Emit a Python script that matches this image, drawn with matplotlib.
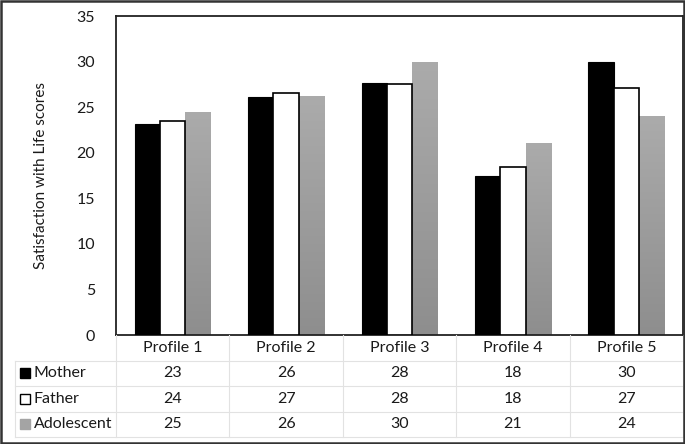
import matplotlib
matplotlib.use('Agg')
import matplotlib.pyplot as plt
from matplotlib.patches import Rectangle
import numpy as np

plt.rcParams['font.family'] = ['Lato', 'DejaVu Sans']

# data (bar heights, table values as printed)
profiles = ['Profile 1', 'Profile 2', 'Profile 3', 'Profile 4', 'Profile 5']
series = ['Mother', 'Father', 'Adolescent']
mother = [23.1, 26.1, 27.7, 17.5, 30.0]
father = [23.5, 26.5, 27.5, 18.4, 27.1]
adolescent = [24.5, 26.2, 30.0, 21.1, 24.0]
mother_tbl = [23, 26, 28, 18, 30]
father_tbl = [24, 27, 28, 18, 27]
adolescent_tbl = [25, 26, 30, 21, 24]

W, H = 685, 444
fig = plt.figure(figsize=(W / 100, H / 100), dpi=100)

# plot area in pixels
left, right, top, bottom = 116, 683, 16, 335
tbl_left, tbl_bottom = 15, 437

ax = fig.add_axes([left / W, (H - bottom) / H, (right - left) / W, (bottom - top) / H])
x = np.arange(len(profiles))
bw = 0.223

ax.bar(x - bw, mother, bw, color='black', edgecolor='black', linewidth=0.8, zorder=3)
ax.bar(x, father, bw, color='white', edgecolor='black', linewidth=1.2, zorder=3)
adol_bars = ax.bar(x + bw, adolescent, bw, color='none', edgecolor='none', zorder=3)

# vertical grey gradient for the adolescent bars
grad = np.linspace(0, 1, 256).reshape(-1, 1)
cmap = matplotlib.colors.LinearSegmentedColormap.from_list('g', ['#8e8e8e', '#ababab'])
for p in adol_bars:
    x0, h = p.get_x(), p.get_height()
    im = ax.imshow(grad, extent=(x0, x0 + p.get_width(), 0, h), origin='lower',
                   cmap=cmap, aspect='auto', zorder=2)
    im.set_clip_path(p)

ax.set_xlim(-0.5, len(profiles) - 0.5)
ax.set_ylim(0, 35)
ax.set_yticks(np.arange(0, 36, 5))
ax.set_xticks([])
ax.tick_params(axis='y', length=0, pad=15, labelsize=11.5, colors='#1a1a1a')
for s in ax.spines.values():
    s.set_color('#222222')
    s.set_linewidth(1.3)
ax.set_ylabel('Satisfaction with Life scores', fontsize=11, color='#1a1a1a')
ax.yaxis.set_label_coords(-(left - 48) / (right - left), 0.5)

# data table under the axes
unit = (right - left) / len(profiles)
tax = fig.add_axes([tbl_left / W, (H - tbl_bottom) / H, (right - tbl_left) / W, (tbl_bottom - bottom) / H])
lab_w = (left - tbl_left) / unit
tax.set_xlim(-0.5 - lab_w, len(profiles) - 0.5)
tax.set_ylim(4, 0)
tax.axis('off')

grid_c = '#e2e2e2'
for r in range(1, 5):
    tax.plot([-0.5 - lab_w, len(profiles) - 0.5], [r, r], color=grid_c, lw=0.8, clip_on=False)
tax.plot([-0.5 - lab_w] * 2, [1, 4], color=grid_c, lw=0.8, clip_on=False)
for b in np.arange(len(profiles) + 1) - 0.5:
    tax.plot([b, b], [0, 4], color=grid_c, lw=0.8, clip_on=False)

for i, p in enumerate(profiles):
    tax.text(i, 0.5, p, ha='center', va='center', fontsize=11.5, color='#1a1a1a')

rows = [mother_tbl, father_tbl, adolescent_tbl]
keys = [dict(mfc='black', mec='black'), dict(mfc='white', mec='black'), dict(mfc='#a4a4a4', mec='#a4a4a4')]
for r, (name, vals, k) in enumerate(zip(series, rows, keys)):
    y = r + 1.5
    key_x = -0.5 - lab_w + 9.5 / unit
    tax.plot([key_x], [y], marker='s', markersize=6.5, mew=1.0, clip_on=False, **k)
    tax.text(key_x + 9 / unit, y, name, ha='left', va='center', fontsize=11.5, color='#1a1a1a')
    for i, v in enumerate(vals):
        tax.text(i, y, str(v), ha='center', va='center', fontsize=11.5, color='#1a1a1a')

# outer chart border
fig.patches.append(Rectangle((0.001, 0.002), 0.997, 0.995, transform=fig.transFigure,
                             fill=False, edgecolor='#333333', linewidth=1.8))

fig.savefig('out.png', dpi=100, facecolor='white')
